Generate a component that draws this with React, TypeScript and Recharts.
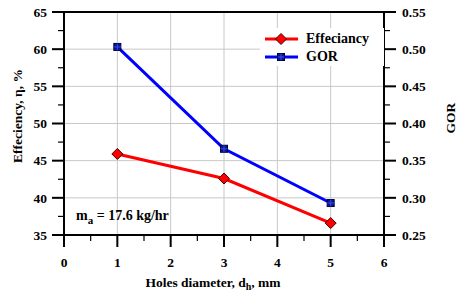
import { ComposedChart, Legend, Line, ReferenceLine, XAxis, YAxis } from "recharts";

document.body.style.margin = "0";

// data
const holeDiameters = [1, 3, 5];
const efficiency = [45.9, 42.6, 36.6];
const gor = [0.503, 0.366, 0.293];

// ticks (majors get labels, the rest are minor ticks)
const xTicks = [0, 0.5, 1, 1.5, 2, 2.5, 3, 3.5, 4, 4.5, 5, 5.5, 6];
const effTicks = [35, 37.5, 40, 42.5, 45, 47.5, 50, 52.5, 55, 57.5, 60, 62.5, 65];
const gorTicks = [0.25, 0.275, 0.3, 0.325, 0.35, 0.375, 0.4, 0.425, 0.45, 0.475, 0.5, 0.525, 0.55];
const gridX = [1, 2, 3, 4, 5];
const gridY = [40, 45, 50, 55, 60];

const rows = holeDiameters.map((d, i) => ({ d, eff: efficiency[i], gor: gor[i] }));

const FONT = "'Liberation Serif', 'Times New Roman', serif";
const txtStyle = { fontFamily: FONT, fontWeight: 700, fontSize: 13.5, fill: "#000" };

function XTick({ x, y, payload }: any) {
  const major = Number.isInteger(payload.value);
  return (
    <g>
      <line x1={x} x2={x} y1={y} y2={y + (major ? 12 : 6)} stroke="#000" strokeWidth={major ? 2 : 1.2} />
      {major && (
        <text x={x} y={y + 32} textAnchor="middle" style={txtStyle}>
          {payload.value}
        </text>
      )}
    </g>
  );
}

function LeftTick({ x, y, payload }: any) {
  const major = payload.value % 5 === 0;
  return (
    <g>
      <line x1={x} x2={x - (major ? 12 : 6)} y1={y} y2={y} stroke="#000" strokeWidth={major ? 2 : 1.2} />
      {major && (
        <text x={x - 17} y={y} dy="0.35em" textAnchor="end" style={txtStyle}>
          {payload.value}
        </text>
      )}
    </g>
  );
}

function RightTick({ x, y, payload, index }: any) {
  const major = index % 2 === 0;
  return (
    <g>
      <line x1={x} x2={x + (major ? 12 : 6)} y1={y} y2={y} stroke="#000" strokeWidth={major ? 2 : 1.2} />
      {major && (
        <text x={x + 18} y={y} dy="0.35em" textAnchor="start" style={txtStyle}>
          {Number(payload.value).toFixed(2)}
        </text>
      )}
    </g>
  );
}

function Diamond({ cx, cy }: any) {
  if (cx == null || cy == null) return null;
  const r = 5.5;
  return (
    <polygon
      points={`${cx},${cy - r} ${cx + r},${cy} ${cx},${cy + r} ${cx - r},${cy}`}
      fill="#ff0000"
      stroke="#400000"
      strokeWidth={1}
    />
  );
}

function Square({ cx, cy }: any) {
  if (cx == null || cy == null) return null;
  const h = 3.5;
  return (
    <g>
      <rect x={cx - h} y={cy - h} width={h * 2} height={h * 2} fill="#0a1496" stroke="#000033" strokeWidth={1} />
      <line x1={cx - h} x2={cx + h} y1={cy} y2={cy} stroke="#3a5aff" strokeWidth={0.8} />
      <line x1={cx} x2={cx} y1={cy - h} y2={cy + h} stroke="#3a5aff" strokeWidth={0.8} />
    </g>
  );
}

function LegendBox() {
  const items = [
    { name: "Effeciancy", color: "#ff0000", Marker: Diamond },
    { name: "GOR", color: "#0000ff", Marker: Square },
  ];
  return (
    <div style={{ background: "#fff", padding: "2px 0 0 4px" }}>
      {items.map(({ name, color, Marker }) => (
        <div key={name} style={{ display: "flex", alignItems: "center", height: 18 }}>
          <svg width={38} height={14}>
            <line x1={1} x2={34} y1={7} y2={7} stroke={color} strokeWidth={3} />
            <Marker cx={17} cy={7} />
          </svg>
          <span style={{ fontFamily: FONT, fontWeight: 700, fontSize: 14, marginLeft: 4 }}>{name}</span>
        </div>
      ))}
    </div>
  );
}

export default function App() {
  return (
    <div style={{ position: "relative", width: 469, height: 297, background: "#fff" }}>
      <ComposedChart width={469} height={297} data={rows} margin={{ top: 12, right: 0, bottom: 0, left: 0 }}>
        {gridX.map((v) => (
          <ReferenceLine key={`gx${v}`} x={v} yAxisId="left" stroke="#c8c8c8" strokeWidth={1} />
        ))}
        {gridY.map((v) => (
          <ReferenceLine key={`gy${v}`} y={v} yAxisId="left" stroke="#c8c8c8" strokeWidth={1} />
        ))}
        <ReferenceLine y={65} yAxisId="left" stroke="#000" strokeWidth={2} />
        <XAxis
          dataKey="d"
          type="number"
          domain={[0, 6]}
          ticks={xTicks}
          interval={0}
          tickSize={0}
          tickMargin={0}
          tickLine={false}
          tick={<XTick />}
          axisLine={{ stroke: "#000", strokeWidth: 2 }}
          height={62}
          label={() => (
            <text x={213} y={287} textAnchor="middle" style={txtStyle}>
              Holes diameter, d<tspan fontSize={10} dy={3}>h</tspan>
              <tspan dy={-3}>, mm</tspan>
            </text>
          )}
        />
        <YAxis
          yAxisId="left"
          type="number"
          domain={[35, 65]}
          ticks={effTicks}
          interval={0}
          width={64}
          tickSize={0}
          tickMargin={0}
          tickLine={false}
          tick={<LeftTick />}
          axisLine={{ stroke: "#000", strokeWidth: 2 }}
          label={() => (
            <text x={22} y={116} textAnchor="middle" transform="rotate(-90, 22, 116)" style={txtStyle}>
              Effeciency, η, %
            </text>
          )}
        />
        <YAxis
          yAxisId="right"
          orientation="right"
          type="number"
          domain={[0.25, 0.55]}
          ticks={gorTicks}
          interval={0}
          width={85}
          tickSize={0}
          tickMargin={0}
          tickLine={false}
          tick={<RightTick />}
          axisLine={{ stroke: "#000", strokeWidth: 2 }}
          label={() => (
            <text x={455} y={118} textAnchor="middle" transform="rotate(-90, 455, 118)" style={txtStyle}>
              GOR
            </text>
          )}
        />
        <Legend
          layout="vertical"
          align="center"
          verticalAlign="middle"
          content={<LegendBox />}
          wrapperStyle={{ top: 28, left: 260, width: 124, height: 36, margin: 0 }}
        />
        <Line
          yAxisId="left"
          dataKey="eff"
          name="Effeciancy"
          stroke="#ff0000"
          strokeWidth={3}
          dot={<Diamond />}
          activeDot={false}
          isAnimationActive={false}
        />
        <Line
          yAxisId="right"
          dataKey="gor"
          name="GOR"
          stroke="#0000ff"
          strokeWidth={3}
          dot={<Square />}
          activeDot={false}
          isAnimationActive={false}
        />
      </ComposedChart>
      <div
        style={{
          position: "absolute",
          left: 76,
          top: 208,
          fontFamily: FONT,
          fontWeight: 700,
          fontSize: 14,
          whiteSpace: "nowrap",
        }}
      >
        m<sub style={{ fontSize: 11 }}>a</sub> = 17.6 kg/hr
      </div>
    </div>
  );
}
